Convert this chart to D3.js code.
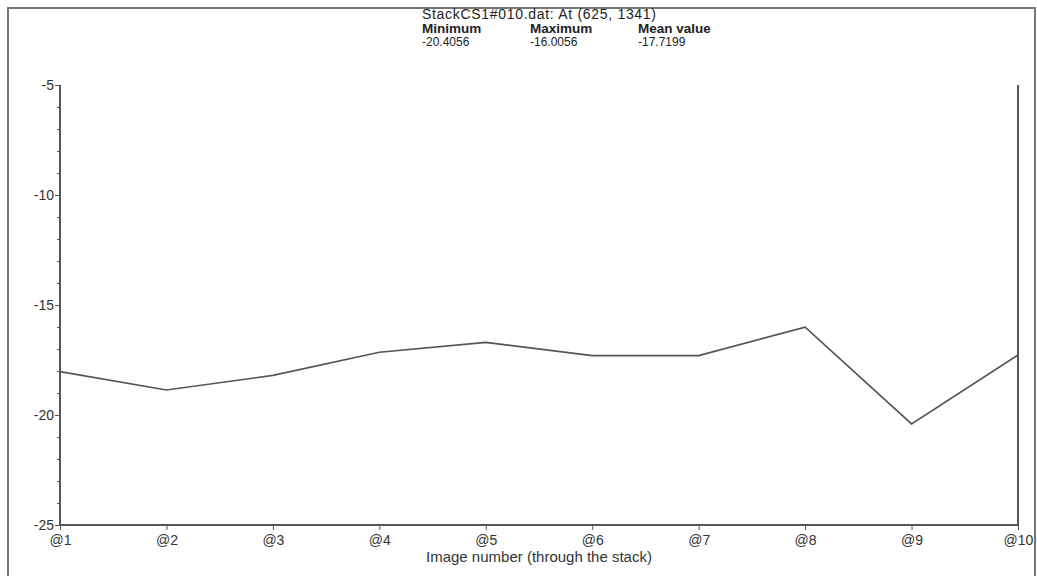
<!DOCTYPE html>
<html>
<head>
<meta charset="utf-8">
<script src="https://cdn.jsdelivr.net/npm/d3@7"></script>
<style>
  body { margin: 0; background: #fff; }
  svg { display: block; font-family: "Liberation Sans", Arial, sans-serif; }
  .axis path, .axis line { stroke: #555; }
  .axis text { fill: #333; font-size: 14px; }
</style>
</head>
<body>
<div id="chart"></div>
<script>
// image index through the stack, and value at (625, 1341)
var images = ["@1", "@2", "@3", "@4", "@5", "@6", "@7", "@8", "@9", "@10"];
var values = [-18.03, -18.86, -18.2, -17.15, -16.7, -17.3, -17.3, -16.0056, -20.4056, -17.27];
var yTicks = [-5, -10, -15, -20, -25];
var statNames = ["Minimum", "Maximum", "Mean value"];
var statValues = ["-20.4056", "-16.0056", "-17.7199"];

var width = 1037, height = 576;
var plotLeft = 60, plotRight = 1018, plotTop = 85, plotBottom = 525;

var svg = d3.select("#chart").append("svg")
  .attr("width", width)
  .attr("height", height);

// outer frame
svg.append("path")
  .attr("d", "M8,580V8H1035V580")
  .attr("fill", "none")
  .attr("stroke", "#777")
  .attr("stroke-width", 2);

var x = d3.scalePoint().domain(images).range([plotLeft, plotRight]);
var y = d3.scaleLinear().domain([-25, -5]).range([plotBottom, plotTop]);

// minor ticks on y
svg.append("g")
  .attr("class", "axis")
  .attr("transform", "translate(" + plotLeft + ",0)")
  .call(d3.axisLeft(y).tickValues(d3.range(-25, -4, 1)).tickSize(3).tickFormat(""))
  .call(function(g) { g.select(".domain").remove(); });

svg.append("g")
  .attr("class", "axis")
  .attr("transform", "translate(" + plotLeft + ",0)")
  .call(d3.axisLeft(y).tickValues(yTicks).tickSize(5).tickPadding(1).tickFormat(function(d) { return String(d); }))
  .call(function(g) {
    g.select(".domain").attr("d", "M0," + plotTop + "V" + plotBottom).attr("stroke-width", 2);
  });

svg.append("g")
  .attr("class", "axis")
  .attr("transform", "translate(0," + plotBottom + ")")
  .call(d3.axisBottom(x).tickSize(5).tickPadding(5))
  .call(function(g) {
    g.select(".domain").attr("d", "M" + plotLeft + ",0H" + plotRight).attr("stroke-width", 2);
  });

// right closing line
svg.append("line")
  .attr("x1", plotRight).attr("x2", plotRight)
  .attr("y1", plotTop).attr("y2", plotBottom)
  .attr("stroke", "#555")
  .attr("stroke-width", 2);

svg.append("text")
  .attr("x", 539)
  .attr("y", 562)
  .attr("text-anchor", "middle")
  .attr("fill", "#333")
  .attr("font-size", 15)
  .text("Image number (through the stack)");

var line = d3.line()
  .x(function(d, i) { return x(images[i]); })
  .y(function(d) { return y(d); });

svg.append("path")
  .datum(values)
  .attr("d", line)
  .attr("fill", "none")
  .attr("stroke", "#555")
  .attr("stroke-width", 1.6);

// header
svg.append("text")
  .attr("x", 422).attr("y", 19)
  .attr("fill", "#222")
  .attr("font-size", 14)
  .attr("textLength", 234)
  .text("StackCS1#010.dat: At (625, 1341)");

var statX = [422, 530, 638];
statNames.forEach(function(s, i) {
  svg.append("text")
    .attr("x", statX[i]).attr("y", 33)
    .attr("fill", "#222")
    .attr("font-size", 13.5)
    .attr("font-weight", "bold")
    .text(s);
  svg.append("text")
    .attr("x", statX[i]).attr("y", 46)
    .attr("fill", "#222")
    .attr("font-size", 12)
    .text(statValues[i]);
});
</script>
</body>
</html>
